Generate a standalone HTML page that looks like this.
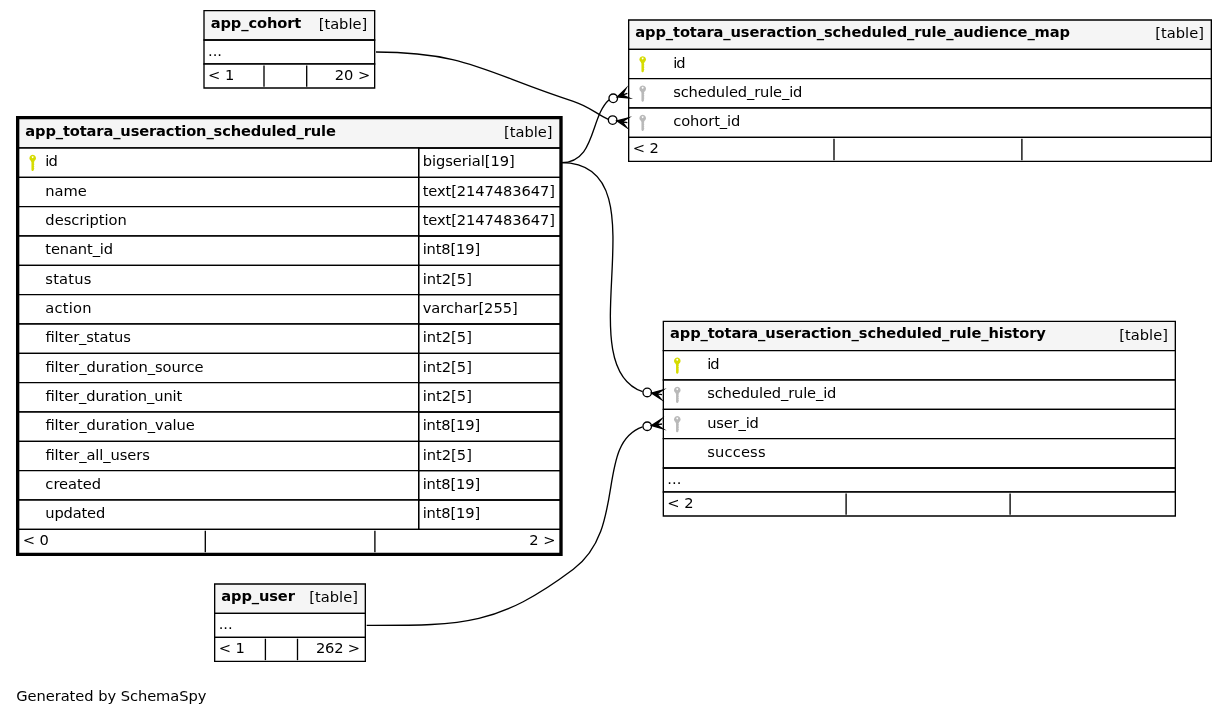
<!DOCTYPE html>
<html lang="en"><head><meta charset="utf-8"><title>Relationships - app_totara_useraction_scheduled_rule</title>
<style>
html,body{margin:0;padding:0;background:#fff;}
body{width:1227px;height:716px;overflow:hidden;}
svg{display:block;will-change:transform;}
svg text{font-family:"DejaVu Sans","Liberation Sans",sans-serif;font-size:14.6667px;fill:#000;}
svg text.b{font-weight:bold;}
svg polygon[fill="black"]{stroke-miterlimit:10;}
svg polygon[stroke="black"]:not([stroke-width]),svg path,svg ellipse{stroke-width:1.3333;}
</style></head><body>
<svg width="1227" height="716" viewBox="0 0 1227 716">
<g>
<polygon fill="#ffffff" stroke="none" points="0,716 0,0 1226.67,0 1226.67,716 0,716"/>
<text x="16.2" y="701.07" textLength="190.27">Generated by SchemaSpy</text>
<g class="node">
<polygon fill="#ffffff" stroke="none" points="628,161.33 628,20 1210.67,20 1210.67,161.33 628,161.33"/>
<polygon fill="#f5f5f5" stroke="none" points="628.67,49.33 628.67,20 1211.33,20 1211.33,49.33 628.67,49.33"/>
<polygon fill="none" stroke="black" points="628.67,49.33 628.67,20 1211.33,20 1211.33,49.33 628.67,49.33"/>
<text class="b" x="635.33" y="37.07" textLength="434.65">app_totara_useraction_scheduled_rule_audience_map</text>
<text x="1155.33" y="38.4" textLength="48.56">[table]</text>
<polygon fill="#ffffff" stroke="none" points="628.67,78.67 628.67,49.33 1211.33,49.33 1211.33,78.67 628.67,78.67"/>
<polygon fill="none" stroke="black" points="628.67,78.67 628.67,49.33 1211.33,49.33 1211.33,78.67 628.67,78.67"/>
<text x="673.2" y="67.73" textLength="12.39">id</text>
<polygon fill="#ffffff" stroke="none" points="628.67,108 628.67,78.67 1211.33,78.67 1211.33,108 628.67,108"/>
<polygon fill="none" stroke="black" points="628.67,108 628.67,78.67 1211.33,78.67 1211.33,108 628.67,108"/>
<text x="673.2" y="97.07" textLength="129.23">scheduled_rule_id</text>
<polygon fill="#ffffff" stroke="none" points="628.67,137.33 628.67,108 1211.33,108 1211.33,137.33 628.67,137.33"/>
<polygon fill="none" stroke="black" points="628.67,137.33 628.67,108 1211.33,108 1211.33,137.33 628.67,137.33"/>
<text x="673.2" y="126.4" textLength="67.16">cohort_id</text>
<polygon fill="#ffffff" stroke="black" points="628.67,161.33 628.67,137.33 1211.33,137.33 1211.33,161.33 628.67,161.33"/>
<path fill="none" stroke="black" d="M834,138.73V160.13"/>
<path fill="none" stroke="black" d="M1021.9,138.73V160.13"/>
<text x="632.67" y="153.07" textLength="26.27">&lt; 2</text>
</g>
<g class="node">
<polygon fill="#ffffff" stroke="none" points="204,88 204,10.67 374.67,10.67 374.67,88 204,88"/>
<polygon fill="#f5f5f5" stroke="none" points="204,40 204,10.67 374.67,10.67 374.67,40 204,40"/>
<polygon fill="none" stroke="black" points="204,40 204,10.67 374.67,10.67 374.67,40 204,40"/>
<text class="b" x="210.67" y="27.73" textLength="90.71">app_cohort</text>
<text x="318.67" y="29.07" textLength="48.56">[table]</text>
<polygon fill="none" stroke="black" points="204,64 204,40 374.67,40 374.67,64 204,64"/>
<text x="208" y="55.73" textLength="13.99">...</text>
<polygon fill="#ffffff" stroke="black" points="204,88 204,64 374.67,64 374.67,88 204,88"/>
<path fill="none" stroke="black" d="M264,65.4V86.8"/>
<path fill="none" stroke="black" d="M306.7,65.4V86.8"/>
<text x="208" y="79.73" textLength="26.27">&lt; 1</text>
<text x="334.67" y="79.73" textLength="35.6">20 &gt;</text>
</g>
<g class="edge">
<path fill="none" stroke="black" d="M608.32,119.31C597.21,114.8 590.23,106.76 573.33,101.33 487.25,73.71 466.4,52 376,52"/>
<polygon fill="black" stroke="black" points="616.83,120.81 628.17,117.93 622.08,121.73 627.33,122.67 627.33,122.67 627.33,122.67 622.08,121.73 626.49,127.4 616.83,120.81 616.83,120.81"/>
<ellipse fill="none" stroke="black" cx="612.63" cy="120.07" rx="4.27" ry="4.27"/>
</g>
<g class="node">
<polygon fill="#ffffff" stroke="none" points="16,556 16,116 562.67,116 562.67,556 16,556"/>
<polygon fill="#f5f5f5" stroke="none" points="18.67,148 18.67,118.67 560,118.67 560,148 18.67,148"/>
<polygon fill="none" stroke="black" points="18.67,148 18.67,118.67 560,118.67 560,148 18.67,148"/>
<text class="b" x="25.33" y="135.73" textLength="310.52">app_totara_useraction_scheduled_rule</text>
<text x="504" y="137.07" textLength="48.56">[table]</text>
<polygon fill="#ffffff" stroke="none" points="18.67,177.33 18.67,148 418.67,148 418.67,177.33 18.67,177.33"/>
<polygon fill="none" stroke="black" points="18.67,177.33 18.67,148 418.67,148 418.67,177.33 18.67,177.33"/>
<text x="45.33" y="166.4" textLength="12.39">id</text>
<polygon fill="none" stroke="black" points="418.67,177.33 418.67,148 560,148 560,177.33 418.67,177.33"/>
<text x="422.67" y="166.4" textLength="92.07">bigserial[19]</text>
<polygon fill="#ffffff" stroke="none" points="18.67,206.67 18.67,177.33 418.67,177.33 418.67,206.67 18.67,206.67"/>
<polygon fill="none" stroke="black" points="18.67,206.67 18.67,177.33 418.67,177.33 418.67,206.67 18.67,206.67"/>
<text x="45.33" y="195.73" textLength="41.57">name</text>
<polygon fill="none" stroke="black" points="418.67,206.67 418.67,177.33 560,177.33 560,206.67 418.67,206.67"/>
<text x="422.67" y="195.73" textLength="132.23">text[2147483647]</text>
<polygon fill="#ffffff" stroke="none" points="18.67,236 18.67,206.67 418.67,206.67 418.67,236 18.67,236"/>
<polygon fill="none" stroke="black" points="18.67,236 18.67,206.67 418.67,206.67 418.67,236 18.67,236"/>
<text x="45.33" y="225.07" textLength="81.51">description</text>
<polygon fill="none" stroke="black" points="418.67,236 418.67,206.67 560,206.67 560,236 418.67,236"/>
<text x="422.67" y="225.07" textLength="132.23">text[2147483647]</text>
<polygon fill="#ffffff" stroke="none" points="18.67,265.33 18.67,236 418.67,236 418.67,265.33 18.67,265.33"/>
<polygon fill="none" stroke="black" points="18.67,265.33 18.67,236 418.67,236 418.67,265.33 18.67,265.33"/>
<text x="45.33" y="254.4" textLength="67.79">tenant_id</text>
<polygon fill="none" stroke="black" points="418.67,265.33 418.67,236 560,236 560,265.33 418.67,265.33"/>
<text x="422.67" y="254.4" textLength="57.53">int8[19]</text>
<polygon fill="#ffffff" stroke="none" points="18.67,294.67 18.67,265.33 418.67,265.33 418.67,294.67 18.67,294.67"/>
<polygon fill="none" stroke="black" points="18.67,294.67 18.67,265.33 418.67,265.33 418.67,294.67 18.67,294.67"/>
<text x="45.33" y="283.73" textLength="46.05">status</text>
<polygon fill="none" stroke="black" points="418.67,294.67 418.67,265.33 560,265.33 560,294.67 418.67,294.67"/>
<text x="422.67" y="283.73" textLength="49.2">int2[5]</text>
<polygon fill="#ffffff" stroke="none" points="18.67,324 18.67,294.67 418.67,294.67 418.67,324 18.67,324"/>
<polygon fill="none" stroke="black" points="18.67,324 18.67,294.67 418.67,294.67 418.67,324 18.67,324"/>
<text x="45.33" y="313.07" textLength="46.12">action</text>
<polygon fill="none" stroke="black" points="418.67,324 418.67,294.67 560,294.67 560,324 418.67,324"/>
<text x="422.67" y="313.07" textLength="95.12">varchar[255]</text>
<polygon fill="#ffffff" stroke="none" points="18.67,353.33 18.67,324 418.67,324 418.67,353.33 18.67,353.33"/>
<polygon fill="none" stroke="black" points="18.67,353.33 18.67,324 418.67,324 418.67,353.33 18.67,353.33"/>
<text x="45.33" y="342.4" textLength="85.47">filter_status</text>
<polygon fill="none" stroke="black" points="418.67,353.33 418.67,324 560,324 560,353.33 418.67,353.33"/>
<text x="422.67" y="342.4" textLength="49.2">int2[5]</text>
<polygon fill="#ffffff" stroke="none" points="18.67,382.67 18.67,353.33 418.67,353.33 418.67,382.67 18.67,382.67"/>
<polygon fill="none" stroke="black" points="18.67,382.67 18.67,353.33 418.67,353.33 418.67,382.67 18.67,382.67"/>
<text x="45.33" y="371.73" textLength="158.09">filter_duration_source</text>
<polygon fill="none" stroke="black" points="418.67,382.67 418.67,353.33 560,353.33 560,382.67 418.67,382.67"/>
<text x="422.67" y="371.73" textLength="49.2">int2[5]</text>
<polygon fill="#ffffff" stroke="none" points="18.67,412 18.67,382.67 418.67,382.67 418.67,412 18.67,412"/>
<polygon fill="none" stroke="black" points="18.67,412 18.67,382.67 418.67,382.67 418.67,412 18.67,412"/>
<text x="45.33" y="401.07" textLength="136.83">filter_duration_unit</text>
<polygon fill="none" stroke="black" points="418.67,412 418.67,382.67 560,382.67 560,412 418.67,412"/>
<text x="422.67" y="401.07" textLength="49.2">int2[5]</text>
<polygon fill="#ffffff" stroke="none" points="18.67,441.33 18.67,412 418.67,412 418.67,441.33 18.67,441.33"/>
<polygon fill="none" stroke="black" points="18.67,441.33 18.67,412 418.67,412 418.67,441.33 18.67,441.33"/>
<text x="45.33" y="430.4" textLength="149.47">filter_duration_value</text>
<polygon fill="none" stroke="black" points="418.67,441.33 418.67,412 560,412 560,441.33 418.67,441.33"/>
<text x="422.67" y="430.4" textLength="57.53">int8[19]</text>
<polygon fill="#ffffff" stroke="none" points="18.67,470.67 18.67,441.33 418.67,441.33 418.67,470.67 18.67,470.67"/>
<polygon fill="none" stroke="black" points="18.67,470.67 18.67,441.33 418.67,441.33 418.67,470.67 18.67,470.67"/>
<text x="45.33" y="459.73" textLength="104.48">filter_all_users</text>
<polygon fill="none" stroke="black" points="418.67,470.67 418.67,441.33 560,441.33 560,470.67 418.67,470.67"/>
<text x="422.67" y="459.73" textLength="49.2">int2[5]</text>
<polygon fill="#ffffff" stroke="none" points="18.67,500 18.67,470.67 418.67,470.67 418.67,500 18.67,500"/>
<polygon fill="none" stroke="black" points="18.67,500 18.67,470.67 418.67,470.67 418.67,500 18.67,500"/>
<text x="45.33" y="489.07" textLength="55.83">created</text>
<polygon fill="none" stroke="black" points="418.67,500 418.67,470.67 560,470.67 560,500 418.67,500"/>
<text x="422.67" y="489.07" textLength="57.53">int8[19]</text>
<polygon fill="#ffffff" stroke="none" points="18.67,529.33 18.67,500 418.67,500 418.67,529.33 18.67,529.33"/>
<polygon fill="none" stroke="black" points="18.67,529.33 18.67,500 418.67,500 418.67,529.33 18.67,529.33"/>
<text x="45.33" y="518.4" textLength="59.95">updated</text>
<polygon fill="none" stroke="black" points="418.67,529.33 418.67,500 560,500 560,529.33 418.67,529.33"/>
<text x="422.67" y="518.4" textLength="57.53">int8[19]</text>
<polygon fill="#ffffff" stroke="black" points="18.67,553.33 18.67,529.33 560,529.33 560,553.33 18.67,553.33"/>
<path fill="none" stroke="black" d="M205.3,530.73V552.13"/>
<path fill="none" stroke="black" d="M374.9,530.73V552.13"/>
<text x="22.67" y="545.07" textLength="26.27">&lt; 0</text>
<text x="529.33" y="545.07" textLength="26.27">2 &gt;</text>
<polygon fill="none" stroke="black" stroke-width="2.67" points="17.33,554.67 17.33,117.33 561.33,117.33 561.33,554.67 17.33,554.67"/>
</g>
<g class="edge">
<path fill="none" stroke="black" d="M609.09,99.73C589.79,116.89 595.91,162.67 561.33,162.67"/>
<polygon fill="black" stroke="black" points="617.27,96.87 625.75,88.8 622.31,95.09 627.33,93.33 627.33,93.33 627.33,93.33 622.31,95.09 628.92,97.87 617.27,96.87 617.27,96.87"/>
<ellipse fill="none" stroke="black" cx="613.24" cy="98.28" rx="4.27" ry="4.27"/>
</g>
<g class="node">
<polygon fill="#ffffff" stroke="none" points="663.33,516 663.33,321.33 1175.33,321.33 1175.33,516 663.33,516"/>
<polygon fill="#f5f5f5" stroke="none" points="663.33,350.67 663.33,321.33 1175.33,321.33 1175.33,350.67 663.33,350.67"/>
<polygon fill="none" stroke="black" points="663.33,350.67 663.33,321.33 1175.33,321.33 1175.33,350.67 663.33,350.67"/>
<text class="b" x="670" y="338.4" textLength="375.88">app_totara_useraction_scheduled_rule_history</text>
<text x="1119.33" y="339.73" textLength="48.56">[table]</text>
<polygon fill="#ffffff" stroke="none" points="663.33,380 663.33,350.67 1175.33,350.67 1175.33,380 663.33,380"/>
<polygon fill="none" stroke="black" points="663.33,380 663.33,350.67 1175.33,350.67 1175.33,380 663.33,380"/>
<text x="707.2" y="369.07" textLength="12.39">id</text>
<polygon fill="#ffffff" stroke="none" points="663.33,409.33 663.33,380 1175.33,380 1175.33,409.33 663.33,409.33"/>
<polygon fill="none" stroke="black" points="663.33,409.33 663.33,380 1175.33,380 1175.33,409.33 663.33,409.33"/>
<text x="707.2" y="398.4" textLength="129.23">scheduled_rule_id</text>
<polygon fill="#ffffff" stroke="none" points="663.33,438.67 663.33,409.33 1175.33,409.33 1175.33,438.67 663.33,438.67"/>
<polygon fill="none" stroke="black" points="663.33,438.67 663.33,409.33 1175.33,409.33 1175.33,438.67 663.33,438.67"/>
<text x="707.2" y="427.73" textLength="51.67">user_id</text>
<polygon fill="#ffffff" stroke="none" points="663.33,468 663.33,438.67 1175.33,438.67 1175.33,468 663.33,468"/>
<polygon fill="none" stroke="black" points="663.33,468 663.33,438.67 1175.33,438.67 1175.33,468 663.33,468"/>
<text x="707.2" y="457.07" textLength="58.35">success</text>
<polygon fill="none" stroke="black" points="663.33,492 663.33,468 1175.33,468 1175.33,492 663.33,492"/>
<text x="667.33" y="483.73" textLength="13.99">...</text>
<polygon fill="#ffffff" stroke="black" points="663.33,516 663.33,492 1175.33,492 1175.33,516 663.33,516"/>
<path fill="none" stroke="black" d="M846.1,493.4V514.8"/>
<path fill="none" stroke="black" d="M1010.1,493.4V514.8"/>
<text x="667.33" y="507.73" textLength="26.27">&lt; 2</text>
</g>
<g class="edge">
<path fill="none" stroke="black" d="M642.6,391.73C565.04,364.88 666.27,162.67 561.33,162.67"/>
<polygon fill="black" stroke="black" points="651.45,393.07 662.72,389.92 656.72,393.87 662,394.67 662,394.67 662,394.67 656.72,393.87 661.28,399.41 651.45,393.07 651.45,393.07"/>
<ellipse fill="none" stroke="black" cx="647.24" cy="392.44" rx="4.27" ry="4.27"/>
</g>
<g class="node">
<polygon fill="#ffffff" stroke="none" points="214,661.33 214,584 364.67,584 364.67,661.33 214,661.33"/>
<polygon fill="#f5f5f5" stroke="none" points="214.67,613.33 214.67,584 365.33,584 365.33,613.33 214.67,613.33"/>
<polygon fill="none" stroke="black" points="214.67,613.33 214.67,584 365.33,584 365.33,613.33 214.67,613.33"/>
<text class="b" x="221.33" y="601.07" textLength="73.53">app_user</text>
<text x="309.33" y="602.4" textLength="48.56">[table]</text>
<polygon fill="none" stroke="black" points="214.67,637.33 214.67,613.33 365.33,613.33 365.33,637.33 214.67,637.33"/>
<text x="218.67" y="629.07" textLength="13.99">...</text>
<polygon fill="#ffffff" stroke="black" points="214.67,661.33 214.67,637.33 365.33,637.33 365.33,661.33 214.67,661.33"/>
<path fill="none" stroke="black" d="M265.4,638.73V660.13"/>
<path fill="none" stroke="black" d="M297.5,638.73V660.13"/>
<text x="218.67" y="653.07" textLength="26.27">&lt; 1</text>
<text x="316" y="653.07" textLength="43.92">262 &gt;</text>
</g>
<g class="edge">
<path fill="none" stroke="black" d="M642.52,426.93C594.87,443.73 627.71,528.53 573.33,569.33 497.21,626.45 461.83,625.33 366.67,625.33"/>
<polygon fill="black" stroke="black" points="651.45,425.59 661.28,419.25 656.72,424.79 662,424 662,424 662,424 656.72,424.79 662.72,428.75 651.45,425.59 651.45,425.59"/>
<ellipse fill="none" stroke="black" cx="647.23" cy="426.23" rx="4.27" ry="4.27"/>
</g>
</g>
<g fill-rule="nonzero" stroke="none">
<path transform="translate(32.7 162.85)" fill="#d6dc00" d="M0,-8.0a3.3,3.3 0 1 1 -0.01,0z M-0.05,-6.65a0.9,0.9 0 1 0 0.01,0z M-2.1,-2.3H2.1L1.2,-0.7V-0.35L1.85,0.1L1.2,0.55V1.4L1.85,1.85L1.2,2.3V3.15L1.85,3.6L1.2,4.05V4.95L1.85,5.4L1.2,5.85V7.2L0.3,8.2H-0.5L-1.25,7.3V-0.7z"/>
<path transform="translate(642.7 64.15)" fill="#d6dc00" d="M0,-8.0a3.3,3.3 0 1 1 -0.01,0z M-0.05,-6.65a0.9,0.9 0 1 0 0.01,0z M-2.1,-2.3H2.1L1.2,-0.7V-0.35L1.85,0.1L1.2,0.55V1.4L1.85,1.85L1.2,2.3V3.15L1.85,3.6L1.2,4.05V4.95L1.85,5.4L1.2,5.85V7.2L0.3,8.2H-0.5L-1.25,7.3V-0.7z"/>
<path transform="translate(642.7 93.45)" fill="#b9b9b9" d="M0,-8.0a3.3,3.3 0 1 1 -0.01,0z M-0.05,-6.65a0.9,0.9 0 1 0 0.01,0z M-2.1,-2.3H2.1L1.2,-0.7V-0.35L1.85,0.1L1.2,0.55V1.4L1.85,1.85L1.2,2.3V3.15L1.85,3.6L1.2,4.05V4.95L1.85,5.4L1.2,5.85V7.2L0.3,8.2H-0.5L-1.25,7.3V-0.7z"/>
<path transform="translate(642.7 122.80)" fill="#b9b9b9" d="M0,-8.0a3.3,3.3 0 1 1 -0.01,0z M-0.05,-6.65a0.9,0.9 0 1 0 0.01,0z M-2.1,-2.3H2.1L1.2,-0.7V-0.35L1.85,0.1L1.2,0.55V1.4L1.85,1.85L1.2,2.3V3.15L1.85,3.6L1.2,4.05V4.95L1.85,5.4L1.2,5.85V7.2L0.3,8.2H-0.5L-1.25,7.3V-0.7z"/>
<path transform="translate(677.3 365.5)" fill="#d6dc00" d="M0,-8.0a3.3,3.3 0 1 1 -0.01,0z M-0.05,-6.65a0.9,0.9 0 1 0 0.01,0z M-2.1,-2.3H2.1L1.2,-0.7V-0.35L1.85,0.1L1.2,0.55V1.4L1.85,1.85L1.2,2.3V3.15L1.85,3.6L1.2,4.05V4.95L1.85,5.4L1.2,5.85V7.2L0.3,8.2H-0.5L-1.25,7.3V-0.7z"/>
<path transform="translate(677.3 394.80)" fill="#b9b9b9" d="M0,-8.0a3.3,3.3 0 1 1 -0.01,0z M-0.05,-6.65a0.9,0.9 0 1 0 0.01,0z M-2.1,-2.3H2.1L1.2,-0.7V-0.35L1.85,0.1L1.2,0.55V1.4L1.85,1.85L1.2,2.3V3.15L1.85,3.6L1.2,4.05V4.95L1.85,5.4L1.2,5.85V7.2L0.3,8.2H-0.5L-1.25,7.3V-0.7z"/>
<path transform="translate(677.3 424.10)" fill="#b9b9b9" d="M0,-8.0a3.3,3.3 0 1 1 -0.01,0z M-0.05,-6.65a0.9,0.9 0 1 0 0.01,0z M-2.1,-2.3H2.1L1.2,-0.7V-0.35L1.85,0.1L1.2,0.55V1.4L1.85,1.85L1.2,2.3V3.15L1.85,3.6L1.2,4.05V4.95L1.85,5.4L1.2,5.85V7.2L0.3,8.2H-0.5L-1.25,7.3V-0.7z"/>
</g>
</svg>
</body></html>
